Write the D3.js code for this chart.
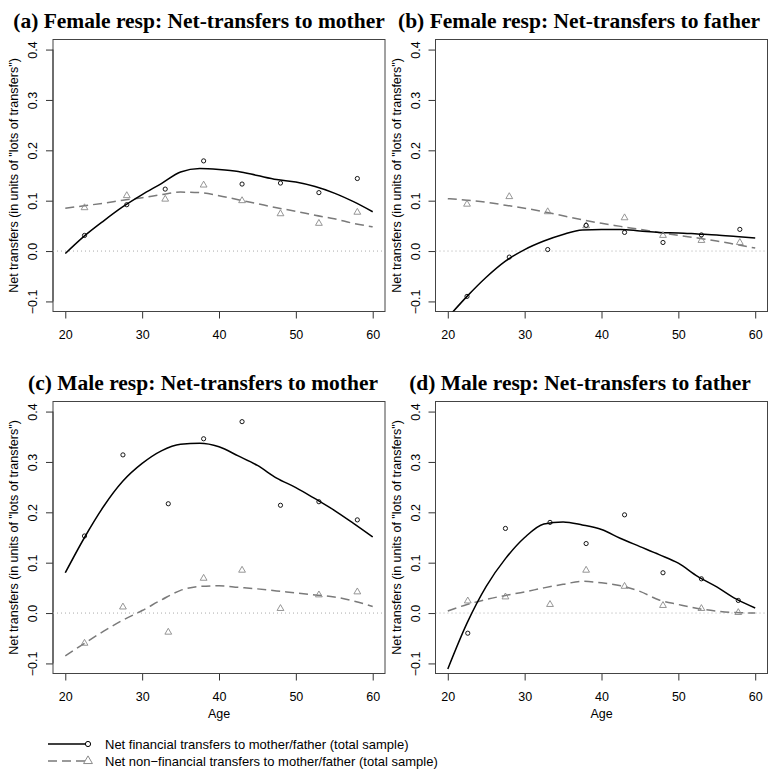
<!DOCTYPE html>
<html>
<head>
<meta charset="utf-8">
<script src="https://cdn.jsdelivr.net/npm/d3@7"></script>
<style>
  body { margin: 0; background: #fff; }
  svg { display: block; }
</style>
</head>
<body>
<svg id="chart" width="768" height="773"></svg>
<script>
// titles of the four panels
var panelTitles = [
  "(a) Female resp: Net-transfers to mother",
  "(b) Female resp: Net-transfers to father",
  "(c) Male resp: Net-transfers to mother",
  "(d) Male resp: Net-transfers to father"
];

var xTicks = [20, 30, 40, 50, 60],
    yTicks = [-0.1, 0.0, 0.1, 0.2, 0.3, 0.4],
    yTickLabels = ["\u22120.1", "0.0", "0.1", "0.2", "0.3", "0.4"];

// ages of the observed (binned) points
var agesA = [22.5, 28, 33, 38, 43, 48, 53, 58],
    agesB = [22.5, 28, 33, 38, 43, 48, 53, 58],
    agesC = [22.5, 27.5, 33.4, 38, 43, 48, 53, 58],
    agesD = [22.6, 27.5, 33.3, 38, 43, 48, 53, 57.8];

// observed points: financial (circles) / non-financial (triangles)
var finA = [0.031, 0.092, 0.123, 0.179, 0.133, 0.135, 0.116, 0.144],
    nonfinA = [0.086, 0.110, 0.103, 0.131, 0.100, 0.074, 0.055, 0.077],
    finB = [-0.090, -0.012, 0.003, 0.051, 0.037, 0.017, 0.032, 0.043],
    nonfinB = [0.093, 0.108, 0.078, 0.050, 0.066, 0.031, 0.021, 0.017],
    finC = [0.153, 0.314, 0.217, 0.346, 0.380, 0.214, 0.221, 0.185],
    nonfinC = [-0.060, 0.012, -0.038, 0.069, 0.085, 0.009, 0.036, 0.042],
    finD = [-0.040, 0.168, 0.180, 0.138, 0.195, 0.080, 0.068, 0.025],
    nonfinD = [0.024, 0.032, 0.017, 0.085, 0.053, 0.015, 0.009, 0.001];

// smoothed curves
var curveAges = [20, 22.5, 25, 27.5, 30, 32.5, 35, 37.5, 40, 42.5, 45, 47.5, 50, 52.5, 55, 57.5, 60];

var fitFinA = [-0.005, 0.030, 0.060, 0.088, 0.112, 0.134, 0.157, 0.164, 0.162, 0.158, 0.150, 0.142, 0.137, 0.128, 0.115, 0.098, 0.078],
    fitNonfinA = [0.085, 0.090, 0.095, 0.101, 0.106, 0.112, 0.117, 0.116, 0.110, 0.102, 0.094, 0.086, 0.079, 0.071, 0.064, 0.055, 0.048],
    fitFinB = [-0.132, -0.090, -0.052, -0.020, 0.003, 0.020, 0.033, 0.042, 0.043, 0.043, 0.040, 0.037, 0.036, 0.034, 0.032, 0.029, 0.026],
    fitNonfinB = [0.104, 0.101, 0.097, 0.091, 0.085, 0.078, 0.070, 0.062, 0.055, 0.049, 0.043, 0.037, 0.031, 0.026, 0.020, 0.013, 0.006],
    fitFinC = [0.080, 0.150, 0.212, 0.262, 0.297, 0.322, 0.335, 0.337, 0.330, 0.312, 0.293, 0.268, 0.249, 0.227, 0.204, 0.178, 0.151],
    fitNonfinC = [-0.085, -0.060, -0.036, -0.014, 0.005, 0.026, 0.045, 0.053, 0.054, 0.051, 0.048, 0.044, 0.040, 0.036, 0.032, 0.024, 0.013],
    fitFinD = [-0.111, -0.020, 0.053, 0.108, 0.150, 0.177, 0.181, 0.175, 0.166, 0.148, 0.132, 0.116, 0.099, 0.073, 0.052, 0.028, 0.010],
    fitNonfinD = [0.004, 0.017, 0.027, 0.035, 0.042, 0.050, 0.057, 0.063, 0.060, 0.054, 0.043, 0.026, 0.017, 0.009, 0.004, 0.001, 0.000];

var legendLabels = [
  "Net financial transfers to mother/father (total sample)",
  "Net non\u2212financial transfers to mother/father (total sample)"
];

var panels = [
  {title: panelTitles[0], ages: agesA, fin: finA, nonfin: nonfinA, fitFin: fitFinA, fitNonfin: fitNonfinA,
   left: 53, top: 39.5, titleX: 199, showAge: false},
  {title: panelTitles[1], ages: agesB, fin: finB, nonfin: nonfinB, fitFin: fitFinB, fitNonfin: fitNonfinB,
   left: 435.5, top: 39.5, titleX: 579, showAge: false},
  {title: panelTitles[2], ages: agesC, fin: finC, nonfin: nonfinC, fitFin: fitFinC, fitNonfin: fitNonfinC,
   left: 53, top: 401.5, titleX: 203, showAge: true},
  {title: panelTitles[3], ages: agesD, fin: finD, nonfin: nonfinD, fitFin: fitFinD, fitNonfin: fitNonfinD,
   left: 435.5, top: 401.5, titleX: 580, showAge: true}
];

var boxW = 332, boxH = 272,
    sans = "'Liberation Sans', Arial, Helvetica, sans-serif",
    serif = "'Liberation Serif', 'Times New Roman', serif",
    greyLine = "#7a7a7a",
    greyPt = "#8a8a8a";

var svg = d3.select("#chart");

var triangle = d3.symbol().type(d3.symbolTriangle).size(20);

panels.forEach(function(p, i) {

  var x = d3.scaleLinear().domain([18.4, 61.6]).range([0, boxW]);
  var y = d3.scaleLinear().domain([-0.12, 0.42]).range([boxH, 0]);

  var g = svg.append("g")
      .attr("transform", "translate(" + p.left + "," + p.top + ")");

  // title
  svg.append("text")
      .attr("x", p.titleX)
      .attr("y", p.top - 12)
      .attr("text-anchor", "middle")
      .style("font-family", serif)
      .style("font-weight", "bold")
      .style("font-size", "21.5px")
      .text(p.title);

  g.append("clipPath").attr("id", "clip" + i)
    .append("rect").attr("width", boxW).attr("height", boxH);

  // x axis
  var xAxis = g.append("g")
      .attr("transform", "translate(0," + boxH + ")")
      .call(d3.axisBottom(x).tickValues(xTicks).tickSize(7).tickPadding(12).tickFormat(d3.format("d")));
  xAxis.select(".domain").remove();
  xAxis.append("line")
      .attr("x1", x(20)).attr("x2", x(60))
      .attr("stroke", "#333");
  xAxis.selectAll("line").attr("stroke", "#333");
  xAxis.selectAll("text")
      .style("font-family", sans)
      .style("font-size", "12.5px")
      .attr("fill", "#000");

  if (p.showAge) {
    g.append("text")
        .attr("x", x(40))
        .attr("y", boxH + 44)
        .attr("text-anchor", "middle")
        .style("font-family", sans)
        .style("font-size", "12.5px")
        .text("Age");
  }

  // y axis
  var yAxis = g.append("g")
      .call(d3.axisLeft(y).tickValues(yTicks).tickSize(7)
        .tickFormat(function(d, k) { return yTickLabels[k]; }));
  yAxis.select(".domain").remove();
  yAxis.append("line")
      .attr("y1", y(-0.1)).attr("y2", y(0.4))
      .attr("stroke", "#333");
  yAxis.selectAll("line").attr("stroke", "#333");
  yAxis.selectAll("text")
      .attr("x", null).attr("dy", "0.35em")
      .attr("transform", "translate(-20,0) rotate(-90)")
      .attr("text-anchor", "middle")
      .style("font-family", sans)
      .style("font-size", "12.5px")
      .attr("fill", "#000");

  g.append("text")
      .attr("transform", "translate(-35," + (boxH / 2) + ") rotate(-90)")
      .attr("text-anchor", "middle")
      .style("font-family", sans)
      .style("font-size", "12.5px")
      .text("Net transfers (in units of \"lots of transfers\")");

  // box
  g.append("rect")
      .attr("width", boxW).attr("height", boxH)
      .attr("fill", "none")
      .attr("stroke", "#444")
      .attr("stroke-width", 1);

  var plot = g.append("g").attr("clip-path", "url(#clip" + i + ")");

  // zero reference line
  plot.append("line")
      .attr("x1", 0).attr("x2", boxW)
      .attr("y1", y(0)).attr("y2", y(0))
      .attr("stroke", "#aaa")
      .attr("stroke-width", 1)
      .attr("stroke-dasharray", "1,3");

  var line = d3.line()
      .x(function(d) { return x(d[0]); })
      .y(function(d) { return y(d[1]); })
      .curve(d3.curveMonotoneX);

  plot.append("path")
      .datum(d3.zip(curveAges, p.fitNonfin))
      .attr("d", line)
      .attr("fill", "none")
      .attr("stroke", greyLine)
      .attr("stroke-width", 1.5)
      .attr("stroke-dasharray", "9,5");

  plot.append("path")
      .datum(d3.zip(curveAges, p.fitFin))
      .attr("d", line)
      .attr("fill", "none")
      .attr("stroke", "#000")
      .attr("stroke-width", 1.5);

  plot.selectAll(".tri")
      .data(d3.zip(p.ages, p.nonfin))
      .enter().append("path")
      .attr("class", "tri")
      .attr("transform", function(d) { return "translate(" + x(d[0]) + "," + y(d[1]) + ")"; })
      .attr("d", triangle)
      .attr("fill", "none")
      .attr("stroke", greyPt)
      .attr("stroke-width", 0.9);

  plot.selectAll(".pt")
      .data(d3.zip(p.ages, p.fin))
      .enter().append("circle")
      .attr("class", "pt")
      .attr("cx", function(d) { return x(d[0]); })
      .attr("cy", function(d) { return y(d[1]); })
      .attr("r", 2.1)
      .attr("fill", "none")
      .attr("stroke", "#000")
      .attr("stroke-width", 0.9);
});

// legend
var legend = svg.append("g");
var legY = [744, 761];

legend.append("line")
    .attr("x1", 48).attr("x2", 88).attr("y1", legY[0]).attr("y2", legY[0])
    .attr("stroke", "#000").attr("stroke-width", 1.5);
legend.append("circle")
    .attr("cx", 88).attr("cy", legY[0]).attr("r", 2.6)
    .attr("fill", "#fff").attr("stroke", "#000").attr("stroke-width", 1);

legend.append("line")
    .attr("x1", 48).attr("x2", 88).attr("y1", legY[1]).attr("y2", legY[1])
    .attr("stroke", greyLine).attr("stroke-width", 1.5)
    .attr("stroke-dasharray", "9,5");
legend.append("path")
    .attr("transform", "translate(88," + legY[1] + ")")
    .attr("d", d3.symbol().type(d3.symbolTriangle).size(34))
    .attr("fill", "#fff").attr("stroke", greyPt).attr("stroke-width", 1);

legend.selectAll(".lab")
    .data(legendLabels)
    .enter().append("text")
    .attr("class", "lab")
    .attr("x", 105)
    .attr("y", function(d, k) { return legY[k]; })
    .attr("dy", "0.35em")
    .style("font-family", sans)
    .style("font-size", "13px")
    .text(function(d) { return d; });
</script>
</body>
</html>
